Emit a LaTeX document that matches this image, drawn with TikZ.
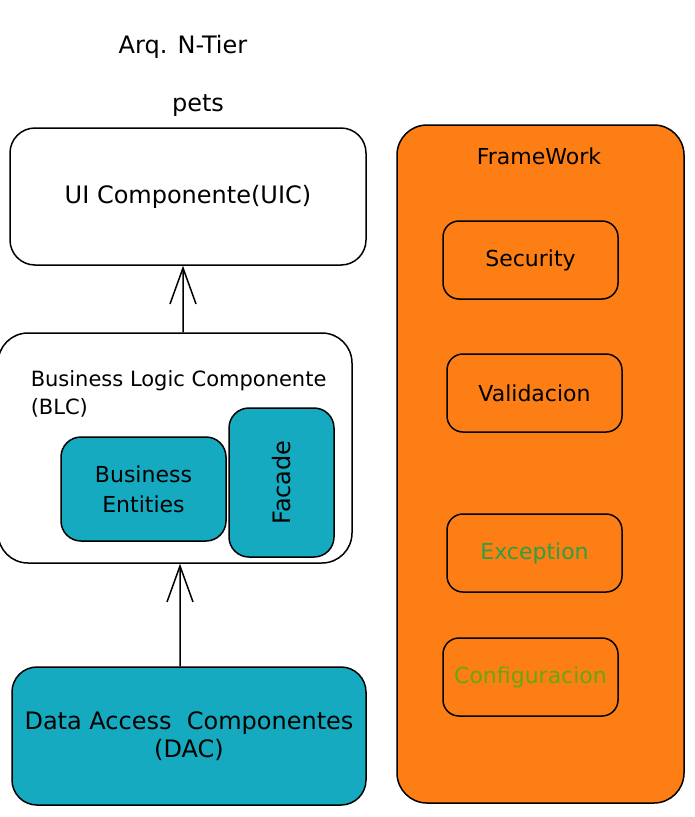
\documentclass[tikz,border=0pt]{standalone}
\usepackage{fontspec}
\setmainfont{DejaVu Sans}
\usetikzlibrary{arrows.meta}
\definecolor{fworange}{HTML}{FD7E14}
\definecolor{compteal}{HTML}{15AABF}
\definecolor{excgreen}{HTML}{2F9E44}
\definecolor{cfggreen}{HTML}{66A80F}

\begin{document}
\begin{tikzpicture}[x=10pt, y=-10pt, line width=1.5pt,
  comp/.style={draw, rounded corners=25pt, inner sep=0pt, align=center, font=\fontsize{22}{30}\selectfont},
  tealbox/.style={comp, fill=compteal},
  fwitem/.style={draw, rounded corners=16pt, fill=fworange, minimum width=175pt, minimum height=78pt, font=\fontsize{22}{28}\selectfont},
  uparrow/.style={-{Straight Barb[length=36pt, width=26pt]}}]
  \useasboundingbox (0,0) rectangle (69.5,81.7);

  % Top: title and name
  \node[font=\fontsize{24}{28}\selectfont] (title) at (18.3, 4.7) {Arq. N-Tier};
  \node[font=\fontsize{24}{28}\selectfont] (pets) at (19.8, 10.6) {pets};

  % Left column: the three tiers
  \node[comp, fill=white, minimum width=356pt, minimum height=137pt, font=\fontsize{24}{30}\selectfont] (uic) at (18.8, 19.65) {UI Componente(UIC)};
  \node[comp, fill=white, rounded corners=30pt, minimum width=354pt, minimum height=230pt] (blc) at (17.5, 44.8) {};
  \node[anchor=north west, align=left, inner sep=0pt, font=\fontsize{21}{28}\selectfont] (blctext) at (3.0, 37.0) {Business Logic Componente\\(BLC)};
  \node[tealbox, rounded corners=20pt, minimum width=165pt, minimum height=104pt] (entities) at (14.35, 48.9) {Business\\Entities};
  \node[tealbox, rounded corners=20pt, rotate=90, minimum width=149pt, minimum height=105pt, font=\fontsize{24}{30}\selectfont] (facade) at (28.15, 48.25) {Facade};
  \node[tealbox, minimum width=354pt, minimum height=138pt, font=\fontsize{24}{28}\selectfont] (dac) at (18.9, 73.6) {Data Access\ \ Componentes\\(DAC)};

  % Arrows
  \draw[uparrow] ([xshift=8pt]blc.north) -- ([xshift=-5pt]uic.south);
  \draw[uparrow] ([xshift=-9pt]dac.north) -- ([xshift=5pt]blc.south);

  % Right column: framework
  \node[draw, rounded corners=30pt, fill=fworange, minimum width=287pt, minimum height=678pt] (fw) at (54.05, 46.4) {};
  \node[font=\fontsize{22}{26}\selectfont] (fwtext) at (53.9, 15.6) {FrameWork};
  \node[fwitem] (security) at (53.05, 26.0) {Security};
  \node[fwitem] (validacion) at (53.45, 39.3) {Validacion};
  \node[fwitem, text=excgreen] (exception) at (53.45, 55.3) {Exception};
  \node[fwitem, text=cfggreen] (config) at (53.05, 67.7) {Configuracion};
\end{tikzpicture}
\end{document}
